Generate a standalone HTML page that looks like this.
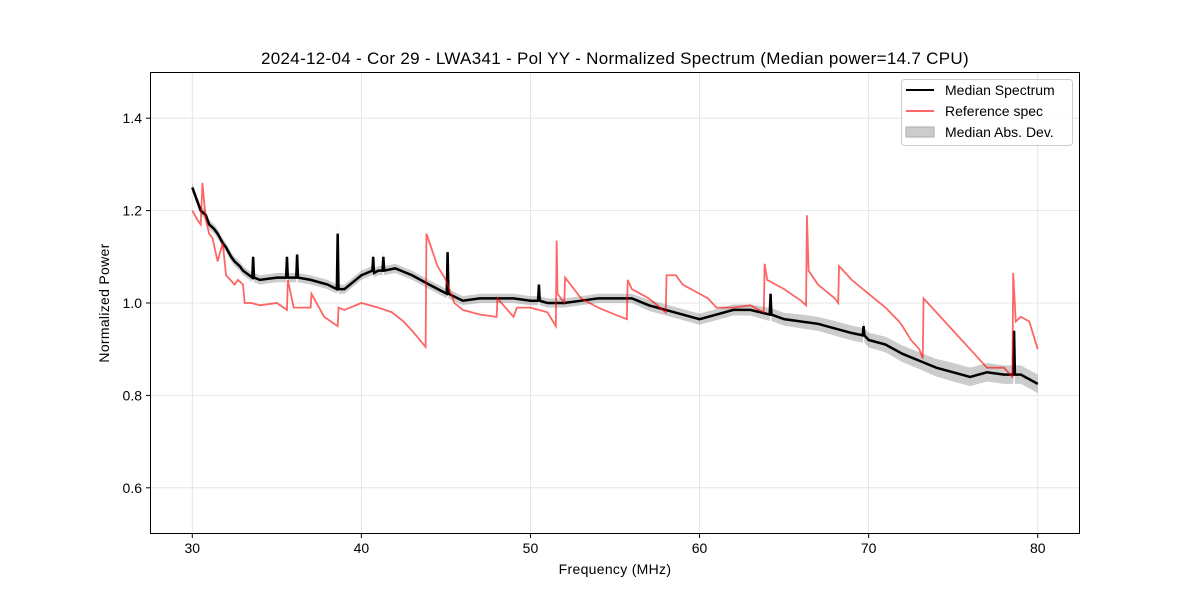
<!DOCTYPE html>
<html><head><meta charset="utf-8"><style>
body{margin:0;background:#fff;font-family:"Liberation Sans",sans-serif}
svg text{font-family:"Liberation Sans",sans-serif}
</style></head><body>
<svg id="c" width="1200" height="600" xmlns="http://www.w3.org/2000/svg">
<rect width="1200" height="600" fill="#fff"/>
<text x="615" y="64" font-size="17" letter-spacing="0.3" text-anchor="middle">2024-12-04 - Cor 29 - LWA341 - Pol YY - Normalized Spectrum (Median power=14.7 CPU)</text>
<g id="grid"></g>
<g id="band"></g>
<g id="black"></g>
<g id="red"></g>
<rect x="150.5" y="72.5" width="929" height="461" fill="none" stroke="#000" stroke-width="1"/>
<g id="ticks"></g>
<text x="615" y="574" font-size="14" letter-spacing="0.3" text-anchor="middle">Frequency (MHz)</text>
<text x="109" y="303" font-size="14" letter-spacing="0.3" text-anchor="middle" transform="rotate(-90 109 303)">Normalized Power</text>
<g>
<rect x="901.5" y="79.5" width="171" height="66" rx="3" fill="#fff" fill-opacity="0.8" stroke="#ccc"/>
<g><line x1="906" y1="90" x2="934" y2="90" stroke="#000" stroke-width="2"/><text x="945" y="95" font-size="14">Median Spectrum</text></g>
<g><line x1="906" y1="111" x2="934" y2="111" stroke="#ff6666" stroke-width="2"/><text x="945" y="116" font-size="14">Reference spec</text></g>
<g><rect x="906" y="127" width="28" height="10" fill="#ccc" stroke="#aaa"/><text x="945" y="137" font-size="14">Median Abs. Dev.</text></g>
</g>
</svg>
<script>
const medFreq=[30,30.3,30.5,30.8,31,31.3,31.5,31.8,32,32.3,32.5,32.8,33,33.55,33.6,33.65,34,35,35.55,35.6,35.65,36,36.15,36.2,36.25,37,38,38.55,38.6,38.65,39,39.5,40,40.65,40.7,40.75,41,41.25,41.3,41.35,42,43,44,45.05,45.1,45.15,46,47,48,49,50,50.45,50.5,50.55,51,52,53,54,55,56,57,58,59,60,61,62,63,64.15,64.2,64.25,65,66,67,68,69,69.65,69.7,69.75,70,71,72,73,74,75,76,77,78,78.55,78.6,78.65,79,80];
const medVal=[1.25,1.22,1.2,1.19,1.17,1.16,1.15,1.13,1.12,1.1,1.09,1.08,1.07,1.055,1.1,1.055,1.05,1.055,1.055,1.1,1.055,1.055,1.055,1.105,1.055,1.05,1.04,1.03,1.15,1.03,1.03,1.045,1.06,1.07,1.1,1.065,1.07,1.07,1.1,1.07,1.075,1.06,1.04,1.02,1.11,1.02,1.005,1.01,1.01,1.01,1.005,1.005,1.04,1.005,1.0,1.0,1.005,1.01,1.01,1.01,0.995,0.985,0.975,0.965,0.975,0.985,0.985,0.975,1.02,0.975,0.965,0.96,0.955,0.945,0.935,0.93,0.95,0.93,0.92,0.91,0.89,0.875,0.86,0.85,0.84,0.85,0.845,0.845,0.94,0.845,0.845,0.825];
const madVal=[0.01,0.01,0.01,0.01,0.01,0.01,0.01,0.01,0.01,0.01,0.01,0.01,0.01,0.01,0.01,0.01,0.01,0.01,0.01,0.01,0.01,0.01,0.01,0.01,0.01,0.01,0.01,0.01,0.025,0.01,0.01,0.01,0.01,0.01,0.01,0.01,0.01,0.01,0.01,0.01,0.01,0.01,0.01,0.01,0.01,0.01,0.01,0.01,0.01,0.01,0.01,0.01,0.01,0.01,0.01,0.01,0.01,0.01,0.01,0.01,0.012,0.012,0.012,0.012,0.012,0.012,0.012,0.014,0.014,0.014,0.014,0.015,0.015,0.016,0.016,0.016,0.016,0.016,0.016,0.017,0.018,0.018,0.019,0.02,0.02,0.02,0.02,0.02,0.02,0.02,0.02,0.02];
const refFreq=[30,30.3,30.5,30.6,30.8,31,31.2,31.5,31.8,32,32.5,32.7,33,33.1,33.5,34,35,35.6,35.65,36,37,37.05,37.8,38.6,38.65,39,40,41,41.8,42.5,43,43.8,43.85,44.5,45,45.5,46,47,48,48.05,49,49.2,50,51,51.5,51.55,51.6,52,52.05,53,54,55,55.7,55.75,56,57,58,58.05,58.6,59,60,60.5,61,61.5,62,63,63.8,63.85,64,65,66,66.3,66.35,66.45,67,68,68.2,68.25,69,70,71,71.8,72,72.5,73,73.2,73.25,74,75,76,76.5,77,78,78.5,78.55,78.7,79,79.5,80];
const refVal=[1.2,1.18,1.17,1.26,1.18,1.15,1.14,1.09,1.13,1.06,1.04,1.05,1.04,1.0,1.0,0.995,1.0,0.985,1.05,0.99,0.99,1.02,0.97,0.95,0.99,0.985,1.0,0.99,0.98,0.96,0.94,0.905,1.15,1.08,1.05,1.0,0.985,0.975,0.97,1.01,0.97,0.99,0.99,0.98,0.95,1.135,1.02,1.0,1.055,1.01,0.99,0.975,0.965,1.05,1.03,1.01,0.98,1.06,1.06,1.04,1.02,1.01,0.99,0.99,0.99,0.995,0.98,1.085,1.05,1.03,1.005,0.995,1.19,1.07,1.04,1.01,1.0,1.08,1.05,1.02,0.99,0.96,0.95,0.92,0.9,0.88,1.01,0.98,0.94,0.9,0.88,0.86,0.86,0.84,1.065,0.96,0.97,0.96,0.9];
const xTicks=[30,40,50,60,70,80];
const yTicks=[0.6,0.8,1.0,1.2,1.4];
const X=f=>150+(f-27.5)*(930/55);
const Y=v=>534-(v-0.5)*462;
const NS="http://www.w3.org/2000/svg";
function mk(t,a,p){const e=document.createElementNS(NS,t);for(const k in a)e.setAttribute(k,a[k]);p.appendChild(e);return e;}
const grid=document.getElementById('grid'),ticks=document.getElementById('ticks');
xTicks.forEach(t=>{const x=X(t);
const g=mk('line',{x1:x,x2:x,y1:72,y2:534,stroke:'#e0e0e0','stroke-width':0.8},grid);


const tk=mk('line',{x1:x,x2:x,y1:534,y2:538,stroke:'#000'},ticks);


const tx=mk('text',{x:x,y:553,'font-size':14,'text-anchor':'middle'},ticks);tx.textContent=t;

});
yTicks.forEach(t=>{const y=Y(t);
const g=mk('line',{x1:150,x2:1080,y1:y,y2:y,stroke:'#e0e0e0','stroke-width':0.8},grid);


const tk=mk('line',{x1:146,x2:150,y1:y,y2:y,stroke:'#000'},ticks);


const tx=mk('text',{x:142,y:y+5,'font-size':14,'text-anchor':'end'},ticks);tx.textContent=t.toFixed(1);

});
let up=medFreq.map((f,i)=>X(f)+','+Y(medVal[i]+madVal[i]));
let dn=medFreq.map((f,i)=>X(f)+','+Y(medVal[i]-madVal[i])).reverse();
const band=mk('polygon',{points:up.concat(dn).join(' '),fill:'#000','fill-opacity':0.2},document.getElementById('band'));


const bl=mk('polyline',{points:medFreq.map((f,i)=>X(f)+','+Y(medVal[i])).join(' '),fill:'none',stroke:'#000','stroke-width':2.5},document.getElementById('black'));


const rl=mk('polyline',{points:refFreq.map((f,i)=>X(f)+','+Y(refVal[i])).join(' '),fill:'none',stroke:'#ff0000','stroke-opacity':0.6,'stroke-width':1.8},document.getElementById('red'));


</script>
</body></html>
